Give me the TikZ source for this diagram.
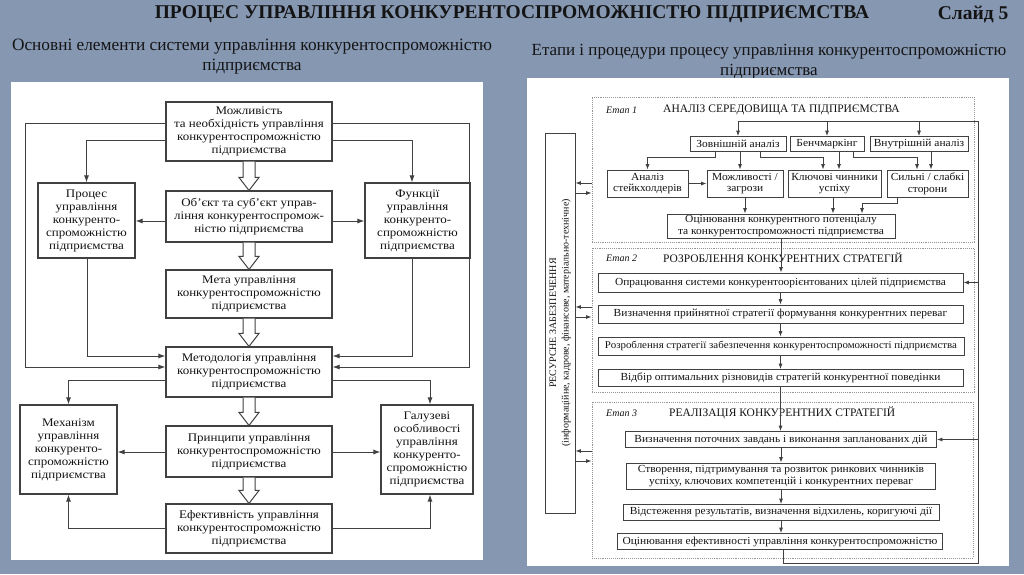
\documentclass[tikz,border=0pt]{standalone}
\usepackage{fontspec}
\setmainfont{Liberation Serif}
\newfontfamily\lfont[FakeStretch=1.12]{Liberation Serif}
\newfontfamily\rfont[FakeStretch=1.06]{Liberation Serif}
\usetikzlibrary{arrows.meta,calc}
\definecolor{bg}{RGB}{134,151,178}
\definecolor{ink}{RGB}{20,20,20}
\definecolor{edge}{RGB}{65,65,65}
\definecolor{dotc}{RGB}{150,150,150}
\newcommand\harrow[2]{\draw[hollow] ($(#1.south)+(-6,0)$) -- ($(#2.north)+(-6,-13)$) -- ($(#2.north)+(-10,-13)$) -- (#2.north) -- ($(#2.north)+(10,-13)$) -- ($(#2.north)+(6,-13)$) -- ($(#1.south)+(6,0)$);}
\begin{document}
\begin{tikzpicture}[x=1pt,y=-1pt,
  lbox/.style={draw=edge, line width=1.1pt, fill=white, inner sep=0pt, align=center, text=ink, font=\lfont\fontsize{11.6}{13}\selectfont},
  rbox/.style={draw=edge, line width=0.8pt, fill=white, inner sep=0pt, align=center, text=ink, font=\rfont\fontsize{10.8}{11.6}\selectfont},
  stagef/.style={draw=dotc, densely dotted, line width=0.9pt, inner sep=0pt},
  arr/.style={draw=edge, line width=1pt, -{Latex[length=7pt,width=5pt]}},
  rarr/.style={draw=edge, line width=0.8pt, -{Latex[length=5.5pt,width=4pt]}},
  hollow/.style={draw=edge, line width=1pt, fill=white, line join=miter},
  hdr/.style={text=ink, inner sep=0pt}]
\fill[bg] (0,0) rectangle (1024,574);
\useasboundingbox (0,0) rectangle (1024,574);
% headings
\node[hdr, font=\bfseries\fontsize{19.5}{22}\selectfont] (title) at (512,14) {ПРОЦЕС УПРАВЛІННЯ КОНКУРЕНТОСПРОМОЖНІСТЮ ПІДПРИЄМСТВА};
\node[hdr, font=\bfseries\fontsize{19.5}{22}\selectfont] (slide) at (973,14) {Слайд 5};
\node[hdr, align=center, font=\fontsize{17.3}{20}\selectfont] (subl) at (252,57) {Основні елементи системи управління конкурентоспроможністю\\підприємства};
\node[hdr, align=center, font=\fontsize{17}{20}\selectfont] (subr) at (769,62) {Етапи і процедури процесу управління конкурентоспроможністю\\підприємства};
% panels
\fill[white] (11,82) rectangle (483,560);
\fill[white] (527,78) rectangle (1009,566);
% ================= left diagram
\node[lbox, minimum width=166pt, minimum height=59pt] (top) at (249,131.5) {Можливість\\та необхідність управління\\конкурентоспроможністю\\підприємства};
\node[lbox, minimum width=97pt, minimum height=75pt] (proc) at (86.5,220.5) {Процес\\управління\\конкуренто-\\спроможністю\\підприємства};
\node[lbox, minimum width=166pt, minimum height=51pt] (obj) at (249,216.5) {Об’єкт та суб’єкт управ-\\ління конкурентоспромож-\\ністю підприємства};
\node[lbox, minimum width=105pt, minimum height=75pt] (func) at (417.5,220.5) {Функції\\управління\\конкуренто-\\спроможністю\\підприємства};
\node[lbox, minimum width=166pt, minimum height=48pt] (meta) at (249,294) {Мета управління\\конкурентоспроможністю\\підприємства};
\node[lbox, minimum width=166pt, minimum height=50pt] (method) at (249,372) {Методологія управління\\конкурентоспроможністю\\підприємства};
\node[lbox, minimum width=97pt, minimum height=89pt] (mech) at (68.5,449.5) {Механізм\\управління\\конкуренто-\\спроможністю\\підприємства};
\node[lbox, minimum width=92pt, minimum height=89pt] (galuz) at (427,449.5) {Галузеві\\особливості\\управління\\конкуренто-\\спроможністю\\підприємства};
\node[lbox, minimum width=166pt, minimum height=51pt] (princ) at (249,451.5) {Принципи управління\\конкурентоспроможністю\\підприємства};
\node[lbox, minimum width=166pt, minimum height=49pt] (eff) at (249,528.5) {Ефективність управління\\конкурентоспроможністю\\підприємства};
% connectors
\draw[arr] (top.west |- 0,123) -| (25,367) -- (method.west |- 0,367);
\draw[arr] (top.west |- 0,140) -| (proc.north);
\draw[arr] (top.east |- 0,123) -| (469,367) -- (method.east |- 0,367);
\draw[arr] (top.east |- 0,140) -| (func.north -| 412,0);
\draw[arr] (obj.west |- 0,221) -- (proc.east |- 0,221);
\draw[arr] (obj.east |- 0,221) -- (func.west |- 0,221);
\draw[arr] (proc.south -| 87,0) |- (method.west |- 0,356);
\draw[arr] (func.south -| 412,0) |- (method.east |- 0,356);
\draw[arr] (method.west |- 0,380) -| (mech.north);
\draw[arr] (method.east |- 0,380) -| (galuz.north -| 430,0);
\draw[arr] (princ.west |- 0,452) -- (mech.east |- 0,452);
\draw[arr] (princ.east |- 0,452) -- (galuz.west |- 0,452);
\draw[arr] (eff.west) -| (mech.south);
\draw[arr] (eff.east) -| (galuz.south -| 430,0);
\harrow{top}{obj}
\harrow{obj}{meta}
\harrow{meta}{method}
\harrow{method}{princ}
\harrow{princ}{eff}
% ================= right diagram
\node[stagef, minimum width=382pt, minimum height=145pt] (st1) at (783,169.5) {};
\node[stagef, minimum width=382pt, minimum height=144pt] (st2) at (783,320) {};
\node[stagef, minimum width=381pt, minimum height=156pt] (st3) at (782.5,480) {};
\node[hdr, anchor=west, font=\itshape\fontsize{10}{12}\selectfont] (e1) at (606,110) {Етап 1};
\node[hdr, anchor=west, font=\fontsize{11.5}{12}\selectfont] (t1) at (663,110) {АНАЛІЗ СЕРЕДОВИЩА ТА ПІДПРИЄМСТВА};
\node[hdr, anchor=west, font=\itshape\fontsize{10}{12}\selectfont] (e2) at (606,258) {Етап 2};
\node[hdr, anchor=west, font=\fontsize{11.5}{12}\selectfont] (t2) at (663,258) {РОЗРОБЛЕННЯ КОНКУРЕНТНИХ СТРАТЕГІЙ};
\node[hdr, anchor=west, font=\itshape\fontsize{10}{12}\selectfont] (e3) at (606,413) {Етап 3};
\node[hdr, anchor=west, font=\fontsize{11.5}{12}\selectfont] (t3) at (669,413) {РЕАЛІЗАЦІЯ КОНКУРЕНТНИХ СТРАТЕГІЙ};
% resource box
\node[rbox, minimum width=30pt, minimum height=380pt] (res) at (560,323) {};
\node[hdr, rotate=90, align=center, font=\fontsize{10}{12.5}\selectfont] (restext) at (res.center) {РЕСУРСНЕ ЗАБЕЗПЕЧЕННЯ\\(інформаційне, кадрове, фінансове, матеріально-технічне)};
% stage 1
\node[rbox, minimum width=96pt, minimum height=15pt] (ext) at (738,144) {Зовнішній аналіз};
\node[rbox, minimum width=74pt, minimum height=15pt] (bench) at (827,144) {Бенчмаркінг};
\node[rbox, minimum width=98pt, minimum height=15pt] (int) at (919,144) {Внутрішній аналіз};
\node[rbox, minimum width=81pt, minimum height=27pt] (stake) at (647.5,183.5) {Аналіз\\стейкхолдерів};
\node[rbox, minimum width=76pt, minimum height=27pt] (opp) at (745,183.5) {Можливості /\\загрози};
\node[rbox, minimum width=93pt, minimum height=27pt] (ksf) at (834.5,183.5) {Ключові чинники\\успіху};
\node[rbox, minimum width=81pt, minimum height=27pt] (sw) at (927.5,183.5) {Сильні / слабкі\\сторони};
\node[rbox, minimum width=228pt, minimum height=24pt] (evalc) at (781,226) {Оцінювання конкурентного потенціалу\\та конкурентоспроможності підприємства};
% stage 2
\node[rbox, minimum width=365pt, minimum height=19pt] (op1) at (780.5,282.5) {Опрацювання системи конкурентоорієнтованих цілей підприємства};
\node[rbox, minimum width=365pt, minimum height=18pt] (op2) at (780.5,314) {Визначення прийнятної стратегії формування конкурентних переваг};
\node[rbox, minimum width=366pt, minimum height=18pt, font=\rfont\fontsize{10.3}{11.6}\selectfont] (op3) at (781,346) {Розроблення стратегії забезпечення конкурентоспроможності підприємства};
\node[rbox, minimum width=365pt, minimum height=17pt] (op4) at (780.5,378) {Відбір оптимальних різновидів стратегій конкурентної поведінки};
% stage 3
\node[rbox, minimum width=311pt, minimum height=16pt] (r1) at (781,439.5) {Визначення поточних завдань і виконання запланованих дій};
\node[rbox, minimum width=309pt, minimum height=26pt] (r2) at (781,476) {Створення, підтримування та розвиток ринкових чинників\\успіху, ключових компетенцій і конкурентних переваг};
\node[rbox, minimum width=316pt, minimum height=16pt] (r3) at (781,512.5) {Відстеження результатів, визначення відхилень, коригуючі дії};
\node[rbox, minimum width=325pt, minimum height=16pt] (fin) at (780,541.5) {Оцінювання ефективності управління конкурентоспроможністю};
% stage 1 connectors
\draw[rarr] (ext.south -| 715,0) -- (715,157) -| (stake.north);
\draw[rarr] (ext.south -| 740,0) -- (opp.north -| 740,0);
\draw[rarr] (ext.south -| 760,0) -- (760,157) -| (ksf.north -| 823,0);
\draw[rarr] (bench.south -| 839,0) -- (ksf.north -| 839,0);
\draw[rarr] (bench.south -| 853,0) -- (853,157) -| (sw.north -| 917,0);
\draw[rarr] (int.south -| 931,0) -- (sw.north -| 931,0);
\draw[rarr] (stake.east) -- (opp.west);
\draw[rarr] (opp.south) -- (evalc.north -| opp.south);
\draw[rarr] (ksf.south -| 833,0) -- (evalc.north -| 833,0);
\draw[rarr] (sw.south -| 897,0) -- (897,203) -| (evalc.north -| 862,0);
\draw[rarr] (evalc.south) -- (evalc.south |- op1.north);
% stage 2/3 connectors
\draw[rarr] (op1.south) -- (op2.north);
\draw[rarr] (op2.south) -- (op2.south |- op3.north);
\draw[rarr] (op3.south -| op4.north) -- (op4.north);
\draw[rarr] (op4.south) -- (op4.south |- r1.north);
\draw[rarr] (r1.south) -- (r1.south |- r2.north);
\draw[rarr] (r2.south) -- (r2.south |- r3.north);
\draw[rarr] (r3.south) -- (r3.south |- fin.north);
% feedback loop
\coordinate (fbB) at (978,563);
\coordinate (fbT) at (978,121);
\draw[rarr] (fin.south -| 783,0) |- (fbB) -- (fbT) -| (ext.north);
\draw[rarr] (bench.north |- fbT) -- (bench.north);
\draw[rarr] (int.north |- fbT) -- (int.north);
\draw[rarr] (fbT |- op1.east) -- (op1.east);
\draw[rarr] (fbT |- r1.east) -- (r1.east);
% resource arrows
\foreach \s/\ya/\yb in {st1/183/193, st2/307/317, st3/451/461} {
  \draw[rarr] (\s.west |- 0,\ya) -- (res.east |- 0,\ya);
  \draw[rarr] (res.east |- 0,\yb) -- (\s.west |- 0,\yb);
}
\end{tikzpicture}
\end{document}
